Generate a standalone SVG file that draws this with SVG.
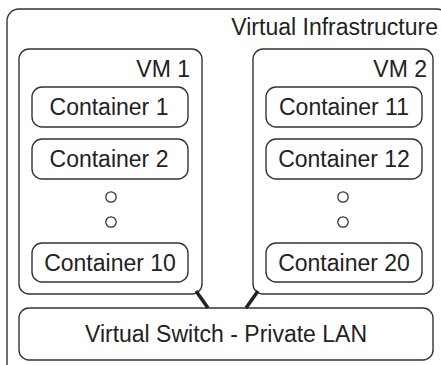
<svg xmlns="http://www.w3.org/2000/svg" width="441" height="365" viewBox="0 0 441 365">
  <style>
    .box { fill: none; stroke: #333; stroke-width: 1.4; }
    .lbl { font-family: "Liberation Sans", Arial, sans-serif; font-size: 23px; fill: #222; }
    .mid { text-anchor: middle; }
    .end { text-anchor: end; }
    .dot { fill: none; stroke: #333; stroke-width: 1.3; }
    .link { stroke: #222; stroke-width: 3.5; stroke-linecap: butt; }
  </style>
  <rect width="441" height="365" fill="#fff"/>

  <!-- virtual infrastructure (runs off the right and bottom edges) -->
  <g id="infra">
    <rect class="box" x="7" y="9" width="442" height="372" rx="12"/>
    <text class="lbl end" x="438" y="35">Virtual Infrastructure</text>
  </g>

  <!-- VM 1 -->
  <g id="vm1">
    <rect class="box" x="19" y="49" width="183" height="245" rx="10"/>
    <text class="lbl end" x="190" y="77">VM 1</text>
  </g>
  <g id="c1">
    <rect class="box" x="32" y="87" width="156" height="40" rx="10"/>
    <text class="lbl mid" x="109" y="115">Container 1</text>
  </g>
  <g id="c2">
    <rect class="box" x="32" y="139" width="156" height="40" rx="10"/>
    <text class="lbl mid" x="109" y="167">Container 2</text>
  </g>
  <g id="vm1-more">
    <circle class="dot" cx="111" cy="197" r="5.2"/>
    <circle class="dot" cx="111" cy="222" r="5.2"/>
  </g>
  <g id="c10">
    <rect class="box" x="32" y="243" width="156" height="39" rx="10"/>
    <text class="lbl mid" x="110" y="271">Container 10</text>
  </g>

  <!-- VM 2 -->
  <g id="vm2">
    <rect class="box" x="253" y="49" width="180" height="245" rx="10"/>
    <text class="lbl end" x="427" y="77">VM 2</text>
  </g>
  <g id="c11">
    <rect class="box" x="266" y="87" width="156" height="40" rx="10"/>
    <text class="lbl mid" x="344" y="115">Container 11</text>
  </g>
  <g id="c12">
    <rect class="box" x="266" y="139" width="156" height="40" rx="10"/>
    <text class="lbl mid" x="344" y="167">Container 12</text>
  </g>
  <g id="vm2-more">
    <circle class="dot" cx="343" cy="197" r="5.2"/>
    <circle class="dot" cx="343" cy="222" r="5.2"/>
  </g>
  <g id="c20">
    <rect class="box" x="266" y="243" width="156" height="39" rx="10"/>
    <text class="lbl mid" x="344" y="271">Container 20</text>
  </g>

  <!-- switch -->
  <g id="switch">
    <rect class="box" x="19" y="308" width="414" height="52" rx="10"/>
    <text class="lbl mid" x="226" y="342">Virtual Switch - Private LAN</text>
  </g>

  <!-- uplinks from each VM to the switch -->
  <g id="links">
    <line class="link" x1="196" y1="291" x2="208" y2="308"/>
    <line class="link" x1="258" y1="291" x2="246" y2="308"/>
  </g>
</svg>
